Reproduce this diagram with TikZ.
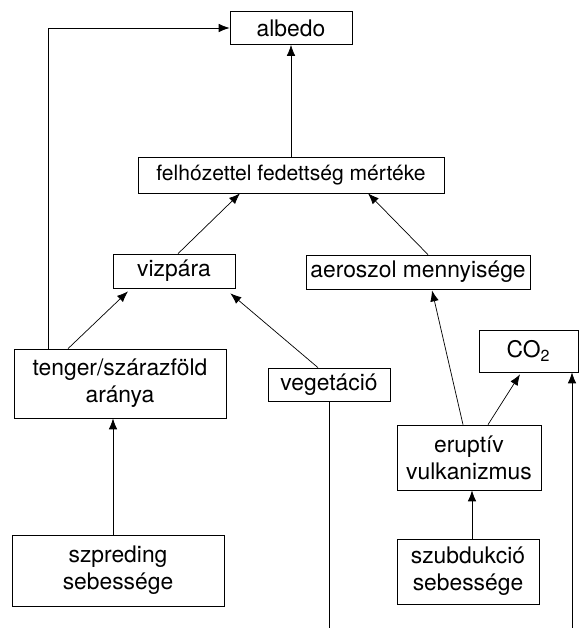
\documentclass[tikz,border=0pt]{standalone}
\usepackage{fontspec}
\setmainfont{TeX Gyre Heros}
\usetikzlibrary{arrows.meta, positioning, calc}

\begin{document}
\begin{tikzpicture}[
    doboz/.style={draw, thin, align=center, inner sep=1pt,
        font=\fontsize{13}{15.5}\selectfont},
    nyil/.style={thin, -{Latex[length=2.2mm,width=1.7mm]}}
]
    \useasboundingbox (0,0) rectangle (11.58,12.56);

    % Boxes
    \node[doboz, minimum width=2.44cm, minimum height=0.66cm] (albedo) at (5.82,12.00) {albedo};
    \node[doboz, minimum width=6.12cm, minimum height=0.72cm, font=\fontsize{12}{14}\selectfont] (felho) at (5.82,9.06) {felhózettel fedettség mértéke};
    \node[doboz, minimum width=2.44cm, minimum height=0.68cm] (vizpara) at (3.48,7.14) {vizpára};
    \node[doboz, minimum width=4.48cm, minimum height=0.68cm] (aeroszol) at (8.36,7.12) {aeroszol mennyisége};
    \node[doboz, minimum width=1.98cm, minimum height=0.84cm] (co2) at (10.57,5.54) {CO\textsubscript{2}};
    \node[doboz, minimum width=4.24cm, minimum height=1.38cm] (tenger) at (2.40,4.89) {tenger/szárazföld\\aránya};
    \node[doboz, minimum width=2.44cm, minimum height=0.66cm] (veget) at (6.58,4.87) {vegetáció};
    \node[doboz, minimum width=2.88cm, minimum height=1.30cm] (erupt) at (9.38,3.41) {eruptív\\vulkanizmus};
    \node[doboz, minimum width=4.24cm, minimum height=1.42cm] (szpred) at (2.36,1.15) {szpreding\\sebessége};
    \node[doboz, minimum width=2.84cm, minimum height=1.30cm] (szubd) at (9.36,1.13) {szubdukció\\sebessége};

    % Free ends at the bottom edge
    \coordinate (vegalj) at (6.58,0);
    \coordinate (co2alj) at (11.44,0);
    % Start points of the vertical arrows
    \coordinate (szpredki) at ($(szpred.north)+(-0.10,0)$);
    \coordinate (szubdki) at ($(szubd.north)+(0.08,0)$);

    % Connectors
    \draw[nyil] ($(tenger.north west)+(0.70,0)$) |- (albedo.west);
    \draw[nyil] (felho.north) -- (albedo.south);
    \draw[nyil] ($(vizpara.north)+(0.08,0)$) -- ($(felho.south)+(-1.02,0)$);
    \draw[nyil] ($(aeroszol.north)+(0.20,0)$) -- ($(felho.south)+(1.54,0)$);
    \draw[nyil] ($(tenger.north)+(-1.04,0)$) -- ($(vizpara.south)+(-0.92,-0.06)$);
    \draw[nyil] ($(veget.north)+(-0.22,0)$) -- ($(vizpara.south east)+(-0.10,-0.10)$);
    \draw[thin] (veget.south) -- (vegalj);
    \draw[nyil] ($(erupt.north)+(-0.12,0)$) -- ($(aeroszol.south)+(0.28,-0.02)$);
    \draw[nyil] ($(erupt.north)+(0.38,0)$) -- ($(co2.south)+(-0.17,-0.04)$);
    \draw[nyil] (co2alj) -- (co2alj |- co2.south);
    \draw[nyil] (szpredki) -- (szpredki |- tenger.south);
    \draw[nyil] (szubdki) -- (szubdki |- erupt.south);
\end{tikzpicture}
\end{document}
